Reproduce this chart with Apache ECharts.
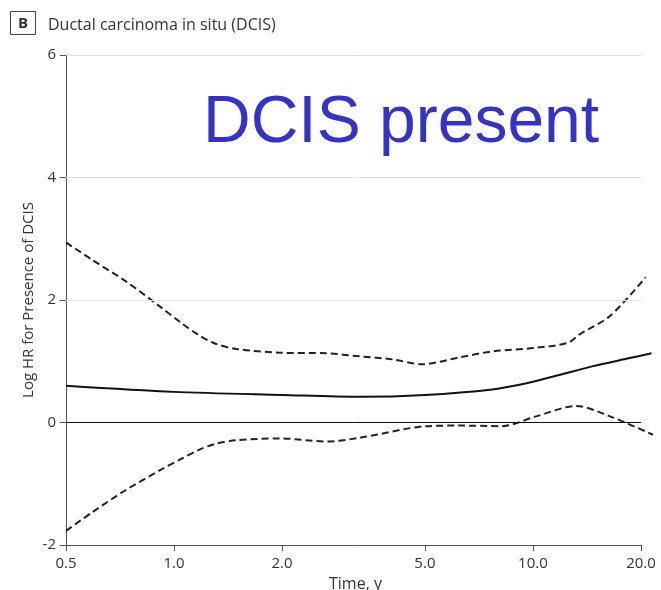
<!DOCTYPE html>
<html>
<head>
<meta charset="utf-8">
<script src="https://cdn.jsdelivr.net/npm/echarts@6/dist/echarts.min.js"></script>
<style>
html,body{margin:0;padding:0;background:#fff;}
#chart{width:661px;height:590px;}
</style>
</head>
<body>
<div id="chart"></div>
<script>
// Tick labels
var xTicks = [0.5, 1, 2, 5, 10, 20];
var yTicks = [-2, 0, 2, 4, 6];

// Point estimate (log HR)
var timeEst = [0.5, 1.0, 2.0, 3.3, 5.0, 7.7, 9.6, 11.9, 14.7, 18.2, 21.4];
var logHR   = [0.60, 0.50, 0.45, 0.42, 0.45, 0.54, 0.64, 0.78, 0.92, 1.04, 1.13];

// Upper confidence band
var timeUpper = [0.5, 0.59, 0.74, 0.92, 1.05, 1.17, 1.3, 1.49, 1.97, 2.66, 3.29, 4.07, 4.9, 6.2, 7.7, 10.2, 12.5, 13.5, 16.4, 20.6];
var upperCI   = [2.94, 2.66, 2.29, 1.88, 1.62, 1.43, 1.29, 1.20, 1.14, 1.13, 1.08, 1.03, 0.95, 1.06, 1.16, 1.22, 1.30, 1.44, 1.74, 2.37];

// Lower confidence band
var timeLower = [0.5, 0.59, 0.74, 0.92, 1.05, 1.17, 1.3, 1.49, 1.97, 2.66, 3.29, 5.05, 6.2, 8.2, 10.2, 13.2, 16.4, 21.6];
var lowerCI   = [-1.77, -1.47, -1.09, -0.77, -0.59, -0.45, -0.35, -0.29, -0.26, -0.31, -0.25, -0.06, -0.05, -0.06, 0.10, 0.27, 0.10, -0.20];

function pairs(xs, ys) { return xs.map(function (x, i) { return [x, ys[i]]; }); }

var FONT = '"Open Sans", "Noto Sans", sans-serif';
var chart = echarts.init(document.getElementById('chart'), null, {renderer: 'canvas'});

var dashed = {color: '#222', width: 2, type: [7, 4]};
var xFirst = xTicks[0], xLast = xTicks[xTicks.length - 1];

function hLine(y, color) {
  return [{coord: [xFirst, y], lineStyle: {color: color, width: 1, type: 'solid'}}, {coord: [xLast, y]}];
}

chart.setOption({
  animation: false,
  backgroundColor: '#fff',
  grid: {left: 66, right: 6, top: 55, bottom: 45, containLabel: false, outerBoundsMode: 'none'},
  xAxis: {
    type: 'log',
    logBase: 10,
    min: 0.5,
    max: 21.88,
    name: 'Time, y',
    nameLocation: 'middle',
    nameGap: 31,
    nameMoveOverlap: false,
    nameTextStyle: {fontFamily: FONT, fontSize: 16, color: '#333', padding: [0, 10, 0, 0]},
    axisLine: {show: false, onZero: false},
    axisTick: {show: true, inside: false, length: 6, lineStyle: {color: '#555'}, customValues: xTicks},
    axisLabel: {
      fontFamily: FONT, fontSize: 15, color: '#333', margin: 11,
      customValues: xTicks,
      formatter: function (v) { return Number(v).toFixed(1); }
    },
    splitLine: {show: false},
    minorTick: {show: false}
  },
  yAxis: {
    type: 'value',
    min: yTicks[0],
    max: yTicks[yTicks.length - 1],
    interval: 2,
    name: 'Log HR for Presence of DCIS',
    nameLocation: 'middle',
    nameGap: 30,
    nameMoveOverlap: false,
    nameTextStyle: {fontFamily: FONT, fontSize: 15, color: '#333'},
    axisLine: {show: true, onZero: false, lineStyle: {color: '#555', width: 1}},
    axisTick: {show: true, inside: false, length: 6, lineStyle: {color: '#555'}},
    axisLabel: {fontFamily: FONT, fontSize: 15, color: '#333', margin: 10},
    splitLine: {show: false}
  },
  title: {
    text: 'Ductal carcinoma in situ (DCIS)',
    left: 43,
    top: 12,
    textStyle: {fontFamily: FONT, fontSize: 16, fontWeight: 'normal', color: '#333'}
  },
  graphic: [
    {type: 'rect', shape: {x: 10.5, y: 11.5, width: 25, height: 23}, style: {fill: '#fff', stroke: '#444', lineWidth: 1}},
    {type: 'text', style: {x: 23, y: 23.5, text: 'B', font: 'bold 15px ' + FONT, fill: '#333', textAlign: 'center', textVerticalAlign: 'middle'}},
    {type: 'text', style: {x: 203, y: 124, text: 'DCIS present', font: '66px "Liberation Sans", Arial, sans-serif', fill: '#3333cc', textAlign: 'left', textVerticalAlign: 'middle'}}
  ],
  series: [
    {
      type: 'line', name: 'Upper', data: pairs(timeUpper, upperCI), smooth: 0.3, showSymbol: false, clip: false,
      lineStyle: dashed, silent: true,
      markLine: {
        silent: true, symbol: 'none', label: {show: false}, animation: false,
        data: [hLine(2, '#e2e2e2'), hLine(4, '#e2e2e2'), hLine(6, '#e2e2e2')]
      }
    },
    {
      type: 'line', name: 'Lower', data: pairs(timeLower, lowerCI), smooth: 0.3, showSymbol: false, clip: false,
      lineStyle: dashed, silent: true
    },
    {
      type: 'line', name: 'Log HR', data: pairs(timeEst, logHR), smooth: 0.3, showSymbol: false, clip: false,
      lineStyle: {color: '#111', width: 2}, silent: true,
      markLine: {
        silent: true, symbol: 'none', label: {show: false}, animation: false,
        data: [hLine(0, '#111'), hLine(-2, '#555')]
      }
    }
  ]
});
</script>
</body>
</html>
